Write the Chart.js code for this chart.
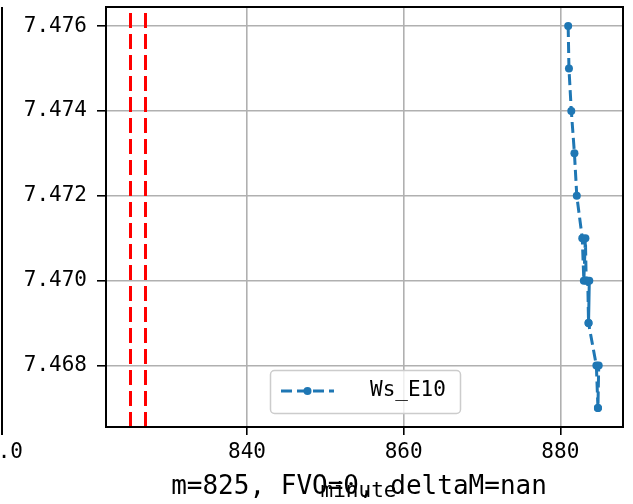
<!DOCTYPE html>
<html>
<head>
<meta charset="utf-8">
<script src="https://cdn.jsdelivr.net/npm/chart.js@4.4.0/dist/chart.umd.min.js"></script>
<style>
  html, body { margin: 0; padding: 0; background: #fff; }
  canvas { display: block; }
</style>
</head>
<body>
<canvas id="myChart" width="633" height="504"></canvas>
<script>
// values
const minutes = [881.0, 881.1, 881.4, 881.8, 882.1, 882.8, 883.0, 883.2, 883.3, 883.5, 883.6, 883.7, 883.6, 884.6, 884.8, 884.9, 884.8];
const wsE10 = [7.476, 7.475, 7.474, 7.473, 7.472, 7.471, 7.470, 7.471, 7.470, 7.470, 7.469, 7.470, 7.469, 7.468, 7.467, 7.468, 7.467];
const markerLines = [825, 827];
const xTicks = [840, 860, 880];
const yTicks = [7.468, 7.470, 7.472, 7.474, 7.476];
const seriesLabel = 'Ws_E10';
const xTitle = 'minute';
const footText = 'm=825, FVO=0, deltaM=nan';
const neighbourTick = '1.0';

const BLUE = '#1f77b4';
const MONO = "'DejaVu Sans Mono', monospace";
Chart.defaults.font.family = MONO;
Chart.defaults.color = '#000';

const decor = {
  id: 'decor',
  beforeDatasetsDraw(chart) {
    const { ctx, chartArea: a, scales: { x } } = chart;
    ctx.save();
    ctx.beginPath();
    ctx.rect(a.left, a.top, a.right - a.left, a.bottom - a.top);
    ctx.clip();
    ctx.strokeStyle = '#ff0000';
    ctx.lineWidth = 3;
    ctx.setLineDash([15, 6]);
    markerLines.forEach(v => {
      const px = Math.round(x.getPixelForValue(v)) + 0.5;
      ctx.beginPath();
      ctx.moveTo(px, a.bottom);
      ctx.lineTo(px, a.top);
      ctx.stroke();
    });
    ctx.restore();
  },
  afterDraw(chart) {
    const { ctx, chartArea: a } = chart;
    const ds = chart.data.datasets[0];
    ctx.save();

    // frame
    ctx.strokeStyle = '#000';
    ctx.lineWidth = 2;
    ctx.strokeRect(a.left, a.top, a.right - a.left, a.bottom - a.top);

    // legend (inside, lower centre)
    ctx.beginPath();
    ctx.roundRect(270.5, 370.5, 190, 43, 4);
    ctx.fillStyle = 'rgba(255,255,255,0.8)';
    ctx.fill();
    ctx.strokeStyle = '#cccccc';
    ctx.lineWidth = 1.5;
    ctx.stroke();

    ctx.strokeStyle = ds.borderColor;
    ctx.lineWidth = ds.borderWidth;
    ctx.setLineDash(ds.borderDash);
    ctx.beginPath();
    ctx.moveTo(281, 391);
    ctx.lineTo(334, 391);
    ctx.stroke();
    ctx.setLineDash([]);
    ctx.fillStyle = ds.borderColor;
    ctx.beginPath();
    ctx.arc(307.5, 391, ds.pointRadius, 0, Math.PI * 2);
    ctx.fill();

    ctx.fillStyle = '#000';
    ctx.font = '21px ' + MONO;
    ctx.textBaseline = 'middle';
    ctx.textAlign = 'left';
    ctx.fillText(ds.label, 370, 391);

    // bottom texts
    ctx.textAlign = 'center';
    ctx.font = '26px ' + MONO;
    ctx.fillText(footText, 359, 487);
    ctx.font = '21px ' + MONO;
    ctx.textBaseline = 'alphabetic';
    ctx.fillText(xTitle, 358.5, 497);

    // edge of the neighbouring subplot on the left
    ctx.strokeStyle = '#000';
    ctx.lineWidth = 2;
    ctx.beginPath();
    ctx.moveTo(2, a.top);
    ctx.lineTo(2, a.bottom);
    ctx.moveTo(2, a.bottom);
    ctx.lineTo(2, a.bottom + 8);
    ctx.stroke();
    ctx.font = '21px ' + MONO;
    ctx.textBaseline = 'middle';
    ctx.fillText(neighbourTick, 4, 453);

    ctx.restore();
  }
};

new Chart(document.getElementById('myChart'), {
  type: 'scatter',
  data: {
    datasets: [{
      label: seriesLabel,
      data: minutes.map((m, i) => ({ x: m, y: wsE10[i] })),
      showLine: true,
      borderColor: BLUE,
      backgroundColor: BLUE,
      borderWidth: 3,
      borderDash: [11, 5],
      pointRadius: 4,
      pointHoverRadius: 4,
      pointBorderWidth: 0,
      pointBackgroundColor: BLUE
    }]
  },
  options: {
    responsive: false,
    animation: false,
    events: [],
    layout: { padding: { left: 0, right: 10, top: 7, bottom: 0 } },
    plugins: {
      legend: { display: false },
      tooltip: { enabled: false }
    },
    scales: {
      x: {
        type: 'linear',
        min: 822,
        max: 888,
        afterFit: s => { s.height = 77; s.paddingLeft = 0; s.paddingRight = 0; },
        afterBuildTicks: s => { s.ticks = xTicks.map(v => ({ value: v })); },
        border: { display: false },
        grid: { color: '#b0b0b0', lineWidth: 1.6, tickColor: '#000', tickLength: 8, tickWidth: 1.6 },
        ticks: { font: { size: 21 }, padding: 5, maxRotation: 0, callback: v => String(v) }
      },
      y: {
        type: 'linear',
        min: 7.46655,
        max: 7.47645,
        afterFit: s => { s.width = 106; s.paddingTop = 0; s.paddingBottom = 0; },
        afterBuildTicks: s => { s.ticks = yTicks.map(v => ({ value: v })); },
        border: { display: false },
        grid: { color: '#b0b0b0', lineWidth: 1.6, tickColor: '#000', tickLength: 9, tickWidth: 1.6 },
        ticks: { font: { size: 21 }, padding: 10, callback: v => v.toFixed(3) }
      }
    }
  },
  plugins: [decor]
});
</script>
</body>
</html>
